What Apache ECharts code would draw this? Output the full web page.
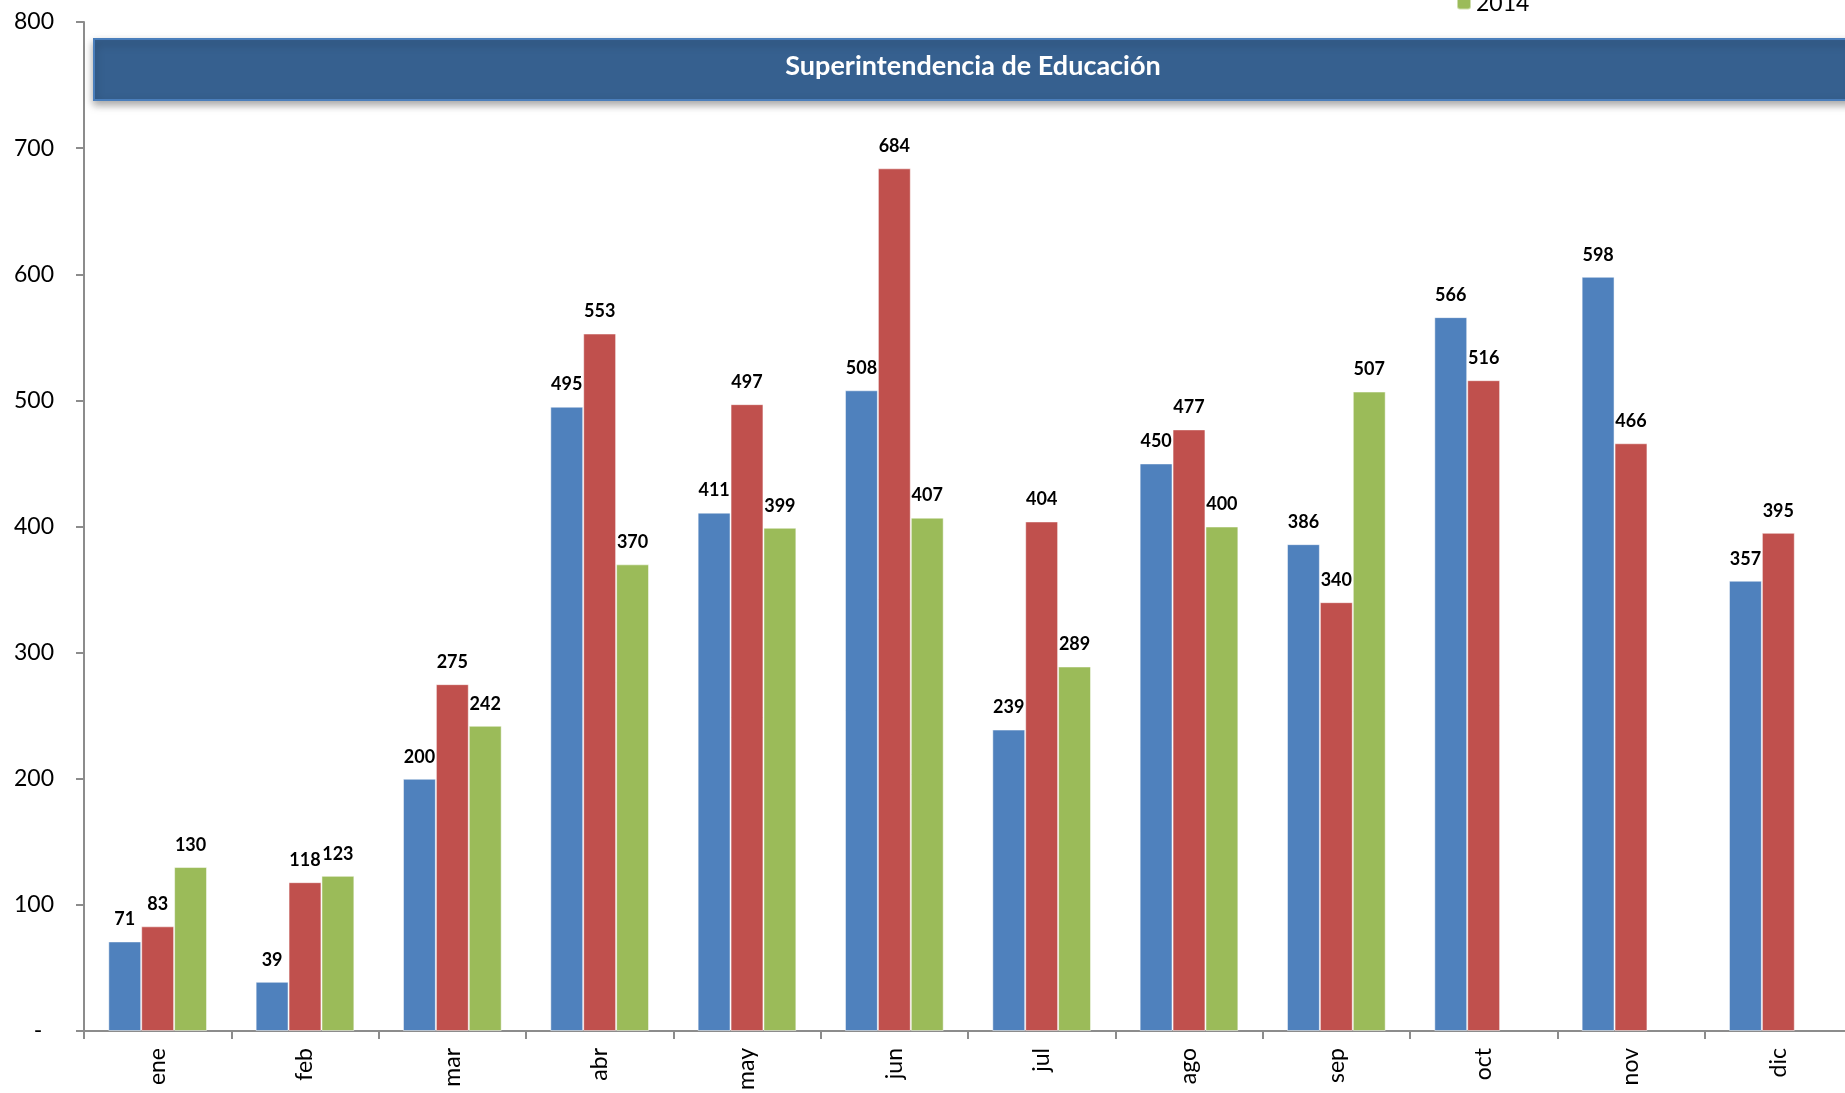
<!DOCTYPE html>
<html><head><meta charset="utf-8">
<script src="https://cdn.jsdelivr.net/npm/echarts@6/dist/echarts.min.js"></script>
<style>html,body{margin:0;padding:0;background:#fff}#c{width:1845px;height:1093px}</style>
</head><body><div id="c"></div>
<script>
var months = ['ene','feb','mar','abr','may','jun','jul','ago','sep','oct','nov','dic'];
var s2012 = [71, 39, 200, 495, 411, 508, 239, 450, 386, 566, 598, 357];
var s2013 = [83, 118, 275, 553, 497, 684, 404, 477, 340, 516, 466, 395];
var s2014 = [130, 123, 242, 370, 399, 407, 289, 400, 507, null, null, null];
var seriesNames = ['2012','2013','2014'];
var colors = ['#4F81BD','#C0504D','#9BBB59'];
var FONT = 'Lato';
var chart = echarts.init(document.getElementById('c'));
function mk(name, data, color){
  return {name:name,type:'bar',data:data,barGap:'0%',barCategoryGap:'33%',
    itemStyle:{color:color,borderColor:'rgba(255,255,255,0.5)',borderWidth:1},
    label:{show:true,position:'top',distance:13,color:'#000',fontWeight:'bold',fontSize:18,fontFamily:FONT}};
}
chart.setOption({
  animation:false,
  color:colors,
  textStyle:{fontFamily:FONT},
  legend:{orient:'vertical',left:1451,top:-79,itemWidth:14,itemHeight:12,itemGap:10,
    textStyle:{fontSize:23,color:'#000',fontFamily:FONT},data:seriesNames},
  grid:{left:84,top:22,width:1768,height:1009,containLabel:false,outerBoundsMode:'none'},
  xAxis:{type:'category',data:months,
    axisLine:{lineStyle:{color:'#8c8c8c',width:2}},
    axisTick:{show:true,length:8,alignWithLabel:false,lineStyle:{color:'#8c8c8c',width:2}},
    axisLabel:{rotate:90,fontSize:23,color:'#000',margin:17,fontFamily:FONT}},
  yAxis:{type:'value',min:0,max:800,interval:100,
    axisLine:{show:true,lineStyle:{color:'#8c8c8c',width:2}},
    axisTick:{show:true,length:8,lineStyle:{color:'#8c8c8c',width:2}},
    splitLine:{show:false},
    axisLabel:{fontSize:23,color:'#000',margin:30,fontFamily:FONT,
      formatter:function(v){return v===0?'-  ':String(v);}}},
  graphic:[
    {type:'rect',left:93,top:38,shape:{width:1760,height:61},
      style:{fill:'#36608F',stroke:'#4A7EBB',lineWidth:2,shadowBlur:8,shadowOffsetY:4,shadowColor:'rgba(0,0,0,0.35)'},z:10},
    {type:'text',x:973,y:66,style:{text:'Superintendencia de Educación',fill:'#fff',
      font:'bold 27px '+FONT,textAlign:'center',textVerticalAlign:'middle'},z:11}
  ],
  series:[mk(seriesNames[0],s2012,colors[0]),mk(seriesNames[1],s2013,colors[1]),mk(seriesNames[2],s2014,colors[2])]
});
</script></body></html>
